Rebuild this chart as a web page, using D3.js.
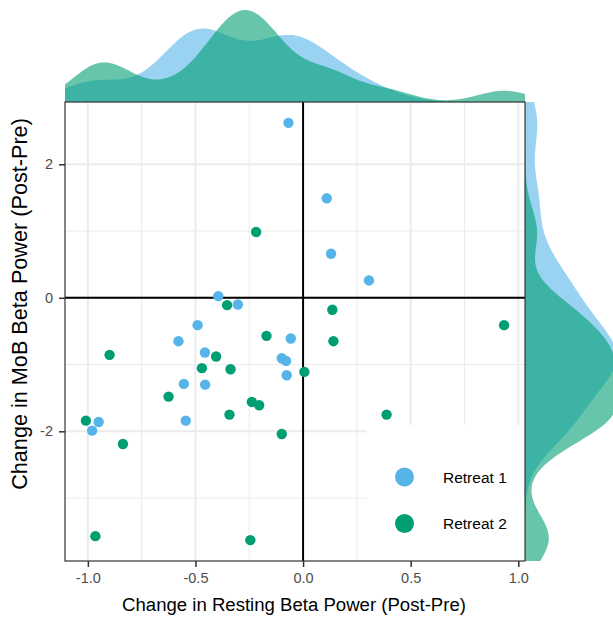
<!DOCTYPE html>
<html>
<head>
<meta charset="utf-8">
<script src="https://cdn.jsdelivr.net/npm/d3@7"></script>
<style>
  html, body { margin: 0; padding: 0; background: #fff; }
  svg { display: block; font-family: "Liberation Sans", Arial, sans-serif; }
</style>
</head>
<body>
<svg id="chart" width="613" height="617"></svg>
<script>
// ---------------- data ----------------
const groups = ["Retreat 1", "Retreat 2"];
const groupColors = ["#56B4E9", "#009E73"];

const retreat1X = [-0.068, 0.110, 0.130, 0.306, -0.394, -0.303, -0.490, -0.579, -0.057,
                   -0.456, -0.099, -0.079, -0.076, -0.554, -0.455, -0.545, -0.950, -0.980];
const retreat1Y = [2.62, 1.49, 0.66, 0.26, 0.025, -0.10, -0.41, -0.65, -0.61,
                   -0.82, -0.905, -0.945, -1.16, -1.29, -1.30, -1.84, -1.86, -1.99];

const retreat2X = [-0.218, -0.353, 0.136, 0.934, -0.170, 0.141, -0.899, -0.404, -0.470,
                   -0.337, 0.006, -0.625, -0.238, -0.204, -0.342, 0.388, -1.009, -0.837,
                   -0.099, -0.965, -0.245];
const retreat2Y = [0.985, -0.11, -0.18, -0.41, -0.57, -0.65, -0.855, -0.88, -1.054,
                   -1.07, -1.11, -1.48, -1.56, -1.61, -1.75, -1.75, -1.84, -2.19,
                   -2.04, -3.57, -3.63];

const xTicks = [-1.0, -0.5, 0.0, 0.5, 1.0];
const xMinorTicks = [-0.75, -0.25, 0.25, 0.75];
const yTicks = [-2, 0, 2];
const yMinorTicks = [-3, -1, 1];

const xTitle = "Change in Resting Beta Power (Post-Pre)";
const yTitle = "Change in MoB Beta Power (Post-Pre)";

// ---------------- build ----------------
const series = [
  { name: groups[0], color: groupColors[0], xs: retreat1X, ys: retreat1Y },
  { name: groups[1], color: groupColors[1], xs: retreat2X, ys: retreat2Y }
];
const points = [];
series.forEach(s => s.xs.forEach((v, i) => points.push({ x: v, y: s.ys[i], g: s.name, color: s.color })));

const panel = { left: 65, right: 525, top: 102, bottom: 561 };

function expand(ext, f) { const d = ext[1] - ext[0]; return [ext[0] - d * f, ext[1] + d * f]; }
const allX = retreat1X.concat(retreat2X), allY = retreat1Y.concat(retreat2Y);
const xDom = expand(d3.extent(allX), 0.05);
const yDom = expand(d3.extent(allY), 0.05);

const x = d3.scaleLinear().domain(xDom).range([panel.left, panel.right]);
const y = d3.scaleLinear().domain(yDom).range([panel.bottom, panel.top]);

const svg = d3.select("#chart");

// ---------------- KDE (gaussian, bw.nrd0) ----------------
function bwNrd0(v) {
  const s = v.slice().sort(d3.ascending);
  const sd = d3.deviation(s);
  const iqr = d3.quantileSorted(s, 0.75) - d3.quantileSorted(s, 0.25);
  const lo = Math.min(sd, iqr / 1.34);
  return 0.9 * lo * Math.pow(s.length, -0.2);
}
function kde(v, dom, n, adjust) {
  const h = bwNrd0(v) * adjust;
  const grid = d3.range(n).map(i => dom[0] + (dom[1] - dom[0]) * i / (n - 1));
  return grid.map(g => {
    let s = 0;
    for (const vi of v) { const u = (g - vi) / h; s += Math.exp(-0.5 * u * u); }
    return [g, s / (v.length * h * Math.sqrt(2 * Math.PI))];
  });
}
const topDens = series.map(s => kde(s.xs, xDom, 256, 0.9));
const rightDens = series.map(s => kde(s.ys, yDom, 256, 0.9));
const topMax = d3.max(topDens.flat(), d => d[1]);
const rightMax = d3.max(rightDens.flat(), d => d[1]);

const margH = 92; // pixels for max density
const dTop = d3.scaleLinear().domain([0, topMax]).range([panel.top, panel.top - margH]);
const dRight = d3.scaleLinear().domain([0, rightMax]).range([panel.right, panel.right + margH]);

const topArea = d3.area().curve(d3.curveLinear)
  .x(d => x(d[0])).y0(panel.top).y1(d => dTop(d[1]));
const rightArea = d3.area().curve(d3.curveLinear)
  .y(d => y(d[0])).x0(panel.right).x1(d => dRight(d[1]));

const margG = svg.append("g");
topDens.forEach((d, i) => margG.append("path").attr("d", topArea(d))
  .attr("fill", series[i].color).attr("fill-opacity", 0.6));
rightDens.forEach((d, i) => margG.append("path").attr("d", rightArea(d))
  .attr("fill", series[i].color).attr("fill-opacity", 0.6));

// ---------------- panel ----------------
const pg = svg.append("g");
pg.append("rect").attr("x", panel.left).attr("y", panel.top)
  .attr("width", panel.right - panel.left).attr("height", panel.bottom - panel.top)
  .attr("fill", "#fff");

// grid
pg.selectAll(".xminor").data(xMinorTicks).join("line")
  .attr("x1", d => x(d)).attr("x2", d => x(d)).attr("y1", panel.top).attr("y2", panel.bottom)
  .attr("stroke", "#EBEBEB").attr("stroke-width", 1);
pg.selectAll(".yminor").data(yMinorTicks).join("line")
  .attr("y1", d => y(d)).attr("y2", d => y(d)).attr("x1", panel.left).attr("x2", panel.right)
  .attr("stroke", "#EBEBEB").attr("stroke-width", 1);
pg.selectAll(".xmajor").data(xTicks).join("line")
  .attr("x1", d => x(d)).attr("x2", d => x(d)).attr("y1", panel.top).attr("y2", panel.bottom)
  .attr("stroke", "#EBEBEB").attr("stroke-width", 2);
pg.selectAll(".ymajor").data(yTicks).join("line")
  .attr("y1", d => y(d)).attr("y2", d => y(d)).attr("x1", panel.left).attr("x2", panel.right)
  .attr("stroke", "#EBEBEB").attr("stroke-width", 2);

// zero reference lines
pg.append("line").attr("x1", x(0)).attr("x2", x(0)).attr("y1", panel.top).attr("y2", panel.bottom)
  .attr("stroke", "#000").attr("stroke-width", 2);
pg.append("line").attr("y1", y(0)).attr("y2", y(0)).attr("x1", panel.left).attr("x2", panel.right)
  .attr("stroke", "#000").attr("stroke-width", 2);

// points
pg.selectAll("circle.pt").data(points).join("circle")
  .attr("class", "pt")
  .attr("cx", d => x(d.x)).attr("cy", d => y(d.y)).attr("r", 5.2)
  .attr("fill", d => d.color);

// legend (inside, white background)
const lg = svg.append("g");
lg.append("rect").attr("x", 367).attr("y", 425)
  .attr("width", panel.right - 367).attr("height", panel.bottom - 425).attr("fill", "#fff");
groups.forEach((gname, i) => {
  const cy = 477 + i * 46.5;
  lg.append("circle").attr("cx", 404.5).attr("cy", cy).attr("r", 9.5).attr("fill", groupColors[i]);
  lg.append("text").attr("x", 443).attr("y", cy).attr("dy", "0.36em")
    .attr("font-size", 15.5).attr("fill", "#000").text(gname);
});

// border
svg.append("rect").attr("x", panel.left).attr("y", panel.top)
  .attr("width", panel.right - panel.left).attr("height", panel.bottom - panel.top)
  .attr("fill", "none").attr("stroke", "#333333").attr("stroke-width", 1.2);

// axes
const xAxis = svg.append("g").attr("transform", `translate(0,${panel.bottom})`)
  .call(d3.axisBottom(x).tickValues(xTicks).tickFormat(d => d.toFixed(1)).tickSizeInner(6).tickSizeOuter(0).tickPadding(6));
const yAxis = svg.append("g").attr("transform", `translate(${panel.left},0)`)
  .call(d3.axisLeft(y).tickValues(yTicks).tickFormat(d => String(d)).tickSizeInner(6).tickSizeOuter(0).tickPadding(6));
[xAxis, yAxis].forEach(a => {
  a.select(".domain").remove();
  a.selectAll(".tick line").attr("stroke", "#333333").attr("stroke-width", 1.5);
  a.selectAll(".tick text").attr("fill", "#4D4D4D").attr("font-size", 14.5)
    .attr("font-family", "Liberation Sans, Arial, sans-serif");
});

// titles (font size fitted to measured text width)
function fitText(sel, target) {
  const w = sel.node().getComputedTextLength();
  const fs = parseFloat(sel.attr("font-size"));
  sel.attr("font-size", fs * target / w);
}
const xt = svg.append("text").attr("x", 294).attr("y", 611)
  .attr("text-anchor", "middle").attr("font-size", 16).attr("fill", "#000").text(xTitle);
fitText(xt, 344);
const yt = svg.append("text").attr("transform", `translate(27,304) rotate(-90)`)
  .attr("text-anchor", "middle").attr("font-size", 16).attr("fill", "#000").text(yTitle);
fitText(yt, 372);
</script>
</body>
</html>
